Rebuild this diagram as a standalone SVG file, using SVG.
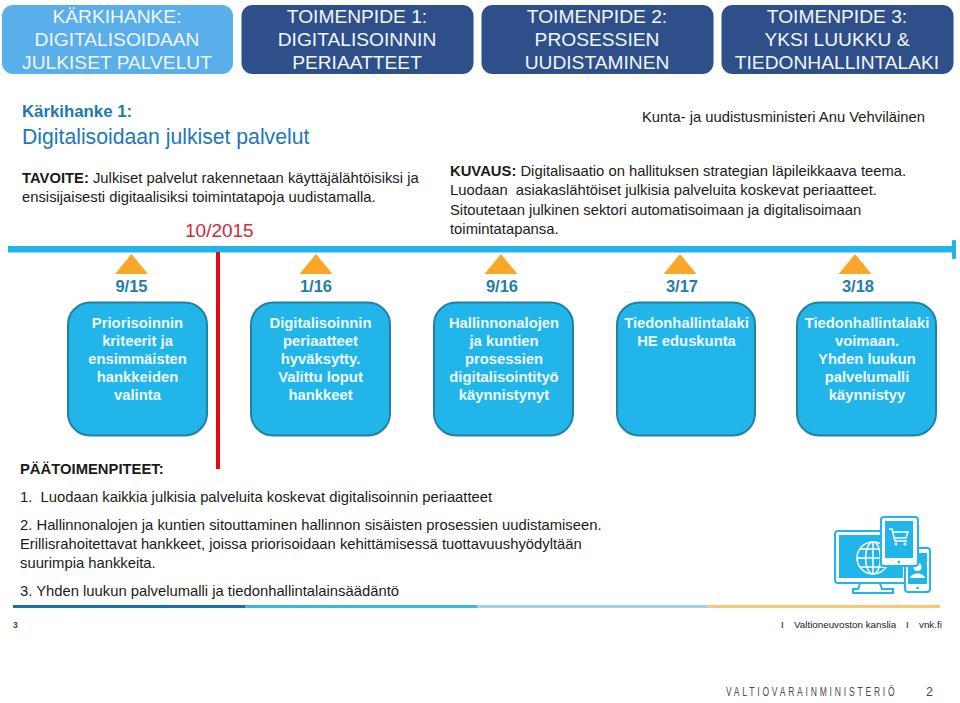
<svg xmlns="http://www.w3.org/2000/svg" width="960" height="703" viewBox="0 0 960 703">
<style>
text{font-family:"Liberation Sans",Arial,sans-serif}
.hd{font-size:19.2px;text-anchor:middle;fill:#f2f6fa}
.t{font-size:14.8px;fill:#1a1a1a}
.b{font-weight:bold}
.date{font-size:16.5px;font-weight:bold;fill:#1f7ea8;text-anchor:middle}
.bx{font-size:14.8px;font-weight:bold;fill:#eef9fd;text-anchor:middle}
.card{fill:#22b5ea;stroke:#23809f;stroke-width:2}
.tri{fill:#f9a72b}
.il{fill:none;stroke:#fff;stroke-width:1.5}
.dv{fill:#fff;stroke:#22b5ea;stroke-width:2}
.sc{fill:#22b5ea}
</style>
<rect width="960" height="703" fill="#fff"/>
<g id="head-0"><rect x="2" y="5" width="231" height="69" rx="11" fill="#5aaeea"/><text class="hd" x="117" y="23">KÄRKIHANKE:</text><text class="hd" x="117" y="46">DIGITALISOIDAAN</text><text class="hd" x="117" y="69">JULKISET PALVELUT</text></g>
<g id="head-1"><rect x="241.500" y="5" width="232" height="69" rx="11" fill="#2f4f8a"/><text class="hd" x="357" y="23">TOIMENPIDE 1:</text><text class="hd" x="357" y="46">DIGITALISOINNIN</text><text class="hd" x="357" y="69">PERIAATTEET</text></g>
<g id="head-2"><rect x="481.500" y="5" width="232" height="69" rx="11" fill="#2f4f8a"/><text class="hd" x="597" y="23">TOIMENPIDE 2:</text><text class="hd" x="597" y="46">PROSESSIEN</text><text class="hd" x="597" y="69">UUDISTAMINEN</text></g>
<g id="head-3"><rect x="721.500" y="5" width="232" height="69" rx="11" fill="#2f4f8a"/><text class="hd" x="837" y="23">TOIMENPIDE 3:</text><text class="hd" x="837" y="46">YKSI LUUKKU &amp;</text><text class="hd" x="837" y="69">TIEDONHALLINTALAKI</text></g>

<g id="title"><text x="22" y="117" font-size="16.800" font-weight="bold" fill="#1c78b4">Kärkihanke 1:</text><text x="22" y="144" font-size="21.200" fill="#1c78b4">Digitalisoidaan julkiset palvelut</text></g>
<g id="minister"><text class="t" x="642" y="122">Kunta- ja uudistusministeri Anu Vehviläinen</text></g>
<g id="tavoite"><text class="t" x="22" y="183"><tspan class="b">TAVOITE:</tspan> Julkiset palvelut rakennetaan käyttäjälähtöisiksi ja</text><text class="t" x="22" y="202">ensisijaisesti digitaalisiksi toimintatapoja uudistamalla.</text></g>
<g id="kuvaus"><text class="t" x="450" y="176"><tspan class="b">KUVAUS:</tspan> Digitalisaatio on hallituksen strategian läpileikkaava teema.</text><text class="t" x="450" y="195" xml:space="preserve">Luodaan  asiakaslähtöiset julkisia palveluita koskevat periaatteet.</text><text class="t" x="450" y="215">Sitoutetaan julkinen sektori automatisoimaan ja digitalisoimaan</text><text class="t" x="450" y="234">toimintatapansa.</text></g>
<g id="date-red"><text x="185" y="237" font-size="19" fill="#d0283c">10/2015</text></g>

<g id="connectors">
<rect x="8" y="246" width="945" height="6.500" fill="#22b5ea"/>
<rect x="952" y="240" width="4" height="19" rx="1" fill="#22b5ea"/>
<rect x="216" y="252" width="4" height="217" fill="#e30613"/>
</g>

<g id="m1"><polygon class="tri" points="131.500,254 148,274 115,274"/><text class="date" x="131.500" y="292">9/15</text><rect class="card" x="68" y="302.500" width="139" height="133" rx="22"/><text class="bx" x="137.500" y="328">Priorisoinnin</text><text class="bx" x="137.500" y="346">kriteerit ja</text><text class="bx" x="137.500" y="364">ensimmäisten</text><text class="bx" x="137.500" y="382">hankkeiden</text><text class="bx" x="137.500" y="400">valinta</text></g>
<g id="m2"><polygon class="tri" points="316,254 332.500,274 299.500,274"/><text class="date" x="316" y="292">1/16</text><rect class="card" x="251" y="302.500" width="139" height="133" rx="22"/><text class="bx" x="320.500" y="328">Digitalisoinnin</text><text class="bx" x="320.500" y="346">periaatteet</text><text class="bx" x="320.500" y="364">hyväksytty.</text><text class="bx" x="320.500" y="382">Valittu loput</text><text class="bx" x="320.500" y="400">hankkeet</text></g>
<g id="m3"><polygon class="tri" points="501,254 517.500,274 484.500,274"/><text class="date" x="502" y="292">9/16</text><rect class="card" x="434" y="302.500" width="139" height="133" rx="22"/><text class="bx" x="504" y="328">Hallinnonalojen</text><text class="bx" x="504" y="346">ja kuntien</text><text class="bx" x="504" y="364">prosessien</text><text class="bx" x="504" y="382">digitalisointityö</text><text class="bx" x="504" y="400">käynnistynyt</text></g>
<g id="m4"><polygon class="tri" points="680,254 696.500,274 663.500,274"/><text class="date" x="682" y="292">3/17</text><rect class="card" x="617" y="302.500" width="138" height="133" rx="22"/><text class="bx" x="686.500" y="328">Tiedonhallintalaki</text><text class="bx" x="686.500" y="346">HE eduskunta</text></g>
<g id="m5"><polygon class="tri" points="855,254 871.500,274 838.500,274"/><text class="date" x="858" y="292">3/18</text><rect class="card" x="797" y="302.500" width="139" height="133" rx="22"/><text class="bx" x="867" y="328">Tiedonhallintalaki</text><text class="bx" x="867" y="346">voimaan.</text><text class="bx" x="867" y="364">Yhden luukun</text><text class="bx" x="867" y="382">palvelumalli</text><text class="bx" x="867" y="400">käynnistyy</text></g>

<g id="actions">
<text class="t b" x="20" y="474">PÄÄTOIMENPITEET:</text>
<text class="t" x="20" y="502" xml:space="preserve">1.  Luodaan kaikkia julkisia palveluita koskevat digitalisoinnin periaatteet</text>
<text class="t" x="20" y="530">2. Hallinnonalojen ja kuntien sitouttaminen hallinnon sisäisten prosessien uudistamiseen.</text>
<text class="t" x="20" y="549">Erillisrahoitettavat hankkeet, joissa priorisoidaan kehittämisessä tuottavuushyödyltään</text>
<text class="t" x="20" y="568">suurimpia hankkeita.</text>
<text class="t" x="20" y="596">3. Yhden luukun palvelumalli ja tiedonhallintalainsäädäntö</text>
</g>

<g id="devices">
<path class="dv" d="M861 581L858 589H853V593H893V589H882L879 581z"/>
<rect class="dv" x="835" y="531" width="72" height="52" rx="3"/>
<rect class="sc" x="839" y="535" width="64" height="43"/>
<circle class="il" cx="873" cy="558" r="16"/>
<ellipse class="il" cx="873" cy="558" rx="7.500" ry="16"/>
<path class="il" d="M873 542V574M857 558H889M860 549H886M860 567H886"/>
<rect class="dv" x="905" y="548" width="25" height="44" rx="3"/>
<rect class="sc" x="908" y="553" width="19" height="31"/>
<circle cx="917.500" cy="567" r="4" fill="#fff"/>
<path d="M910 578c1-6 14-6 15 0z" fill="#fff"/>
<circle cx="917.500" cy="588" r="1.300" class="sc"/>
<rect class="dv" x="881" y="517" width="37" height="49" rx="3"/>
<rect class="sc" x="885" y="521" width="28" height="37"/>
<circle cx="899" cy="562" r="1.300" class="sc"/>
<path class="il" d="M889 529H892L895 541H907M893 532H908L906 538H895"/>
<circle cx="896" cy="544" r="1.500" fill="#fff"/><circle cx="905" cy="544" r="1.500" fill="#fff"/>
</g>

<g id="rule">
<rect x="13" y="605" width="232" height="3" fill="#1a6fa8"/>
<rect x="245" y="605" width="232" height="3" fill="#3db8e3"/>
<rect x="477" y="605" width="231" height="3" fill="#a6d0e0"/>
<rect x="708" y="605" width="232" height="3" fill="#f8c677"/>
</g>
<g id="footer">
<text x="13" y="628" font-size="8.500" font-weight="bold" fill="#444">3</text>
<text x="781" y="628" font-size="9.500" font-weight="bold" fill="#3a6a9a">I</text>
<text x="794" y="628" font-size="9.800" fill="#222">Valtioneuvoston kanslia</text>
<text x="906" y="628" font-size="9.500" font-weight="bold" fill="#3a6a9a">I</text>
<text x="919" y="628" font-size="9.800" fill="#222">vnk.fi</text>
<text transform="translate(726 696) scale(.68 1)" font-size="12.500" textLength="248" lengthAdjust="spacing" fill="#3e4d5c">VALTIOVARAINMINISTERIÖ</text>
<text x="926" y="696" font-size="12.500" fill="#3e4d5c">2</text>
</g>
</svg>
